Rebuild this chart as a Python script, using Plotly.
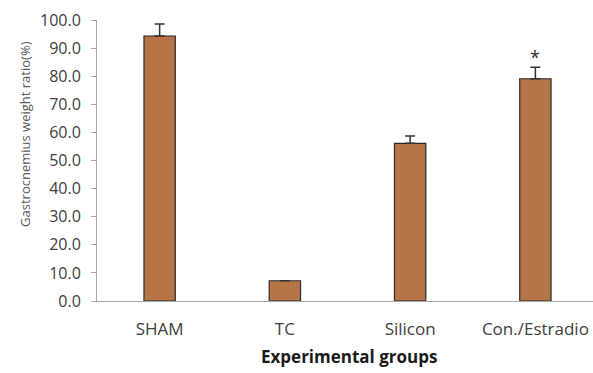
import plotly.graph_objects as go

groups = ["SHAM", "TC", "Silicon", "Con./Estradio"]
ratio_mean = [94.3, 7.2, 56.1, 79.1]
ratio_err = [4.3, 0.0, 2.6, 4.1]
y_ticks = [0, 10, 20, 30, 40, 50, 60, 70, 80, 90, 100]
significance = ["", "", "", "*"]

font_family = "Open Sans, Liberation Sans, sans-serif"

fig = go.Figure()
fig.add_trace(go.Bar(
    x=groups,
    y=ratio_mean,
    width=0.25,
    marker=dict(
        color="#B2744B",
        line=dict(color="#2b2b2b", width=1.2),
        pattern=dict(shape=".", fgcolor="#C8743C", size=4, solidity=0.35),
    ),
    error_y=dict(
        type="data",
        array=ratio_err,
        arrayminus=[0] * len(ratio_err),
        symmetric=False,
        color="#333333",
        thickness=1.5,
        width=5,
    ),
    showlegend=False,
))

for g, m, e, s in zip(groups, ratio_mean, ratio_err, significance):
    if s:
        fig.add_annotation(
            x=g, y=m + e, text=s, showarrow=False, yanchor="bottom", yshift=-4,
            font=dict(family=font_family, size=18, color="#333333"),
        )

# axis titles
fig.add_annotation(
    text="<b>Experimental groups</b>", xref="paper", yref="paper",
    x=0.508, y=-0.199, showarrow=False, xanchor="center", yanchor="middle",
    font=dict(family=font_family, size=17, color="#1a1a1a"),
)
fig.add_annotation(
    text="Gastrocnemius weight ratio(%)", xref="paper", yref="paper",
    x=-0.145, y=0.595, showarrow=False, xanchor="center", yanchor="middle",
    textangle=-90,
    font=dict(family=font_family, size=13, color="#595959"),
)

fig.update_layout(
    width=593, height=373,
    margin=dict(l=97, r=0, t=20, b=72),
    paper_bgcolor="white", plot_bgcolor="white",
    font=dict(family=font_family, color="#404040"),
    bargap=0.75,
)
fig.update_xaxes(
    range=[-0.5, 3.46],
    showline=True, linecolor="#a6a6a6", linewidth=1,
    ticks="", showgrid=False,
    tickfont=dict(size=17, color="#404040"),
    ticklabelstandoff=13,
)
fig.update_yaxes(
    range=[0, 100],
    tickvals=y_ticks,
    tickformat=".1f",
    showline=True, linecolor="#a6a6a6", linewidth=1,
    ticks="outside", ticklen=5, tickcolor="#a6a6a6",
    showgrid=False, zeroline=False,
    tickfont=dict(size=16, color="#404040"),
    ticklabelstandoff=7,
)

fig.write_html("out.html")
